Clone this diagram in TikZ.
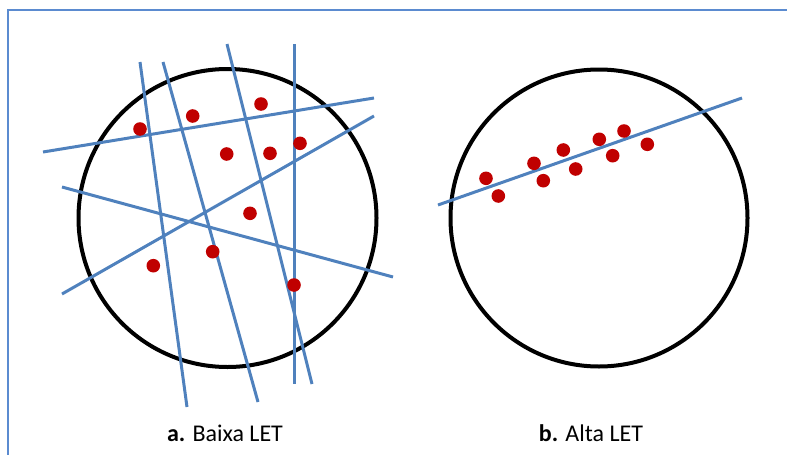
\documentclass[tikz,border=0pt]{standalone}
\usepackage{fontspec}
\setmainfont{Carlito}
\definecolor{rayblue}{HTML}{4F81BD}
\definecolor{framblue}{HTML}{5B8BD0}
\definecolor{dotred}{HTML}{C00000}
\begin{document}
\begin{tikzpicture}[x=1pt,y=-1pt,
  ray/.style={rayblue,line width=3pt},
  cell/.style={black,line width=4pt},
  dot/.style={fill=dotred},
  lbl/.style={anchor=base,font=\fontsize{24}{28}\selectfont}]
\useasboundingbox (0,0) rectangle (787,455);
% frame
\draw[framblue,line width=2.5pt] (8,456) -- (8,10) -- (788,10);
% panel a
\draw[cell] (227.5,218) circle (149);
\draw[ray] (140,62) -- (187,407);
\draw[ray] (163,62) -- (258,402);
\draw[ray] (227,44) -- (312,384);
\draw[ray] (294,44) -- (294,384);
\draw[ray] (43,152) -- (374,98);
\draw[ray] (374,116) -- (62,294);
\draw[ray] (62,187) -- (393,277);
\foreach \p in {(140,129),(192.7,116),(261,104),(226.7,154),(270,153.3),(300,143.3),(250,213.3),(153.3,265.7),(212.7,251.7),(294,285)}
  \fill[dot] \p circle (6.8);
% panel b
\draw[cell] (599,218) circle (148.5);
\draw[ray] (438,205) -- (742,98);
\foreach \p in {(486,178.3),(498.3,196),(534,163.3),(543.3,180.7),(563.3,150),(575.7,169),(599.3,139.3),(612.7,155.7),(624,131),(647.3,144.3)}
  \fill[dot] \p circle (6.8);
% labels
\node[lbl] (la) at (225,441.7) {\textbf{a.} Baixa LET};
\node[lbl] (lb) at (591,441.7) {\textbf{b.} Alta LET};
\end{tikzpicture}
\end{document}
